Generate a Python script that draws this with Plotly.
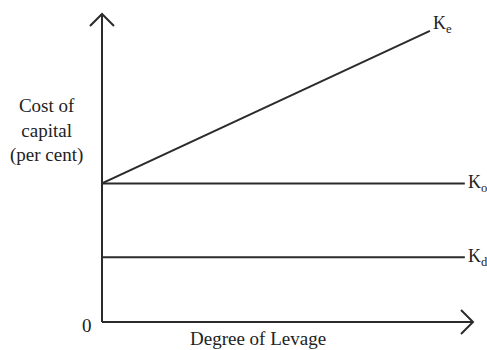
import plotly.graph_objects as go

# Data (arbitrary units)
leverage = [0, 8.84]
ke_values = [4.5, 9.45]
ko_leverage = [0, 9.78]
ko_values = [4.5, 4.5]
kd_values = [2.1, 2.1]
line_labels = ["K<sub>e</sub>", "K<sub>o</sub>", "K<sub>d</sub>"]

LINE = "#2b2b2b"
TXT = "#222"
FONT = "Liberation Serif, Times New Roman, serif"

fig = go.Figure()
for xs, ys in [(leverage, ke_values), (ko_leverage, ko_values), (ko_leverage, kd_values)]:
    fig.add_trace(go.Scatter(x=xs, y=ys, mode="lines",
                             line=dict(color=LINE, width=2), hoverinfo="skip"))

# line-end labels
ends = [(leverage[-1], ke_values[-1], 6), (ko_leverage[-1], ko_values[-1], 0),
        (ko_leverage[-1], kd_values[-1], 0)]
for (x, y, ys), lab in zip(ends, line_labels):
    fig.add_annotation(x=x, y=y, text=lab, showarrow=False, xanchor="left",
                       yanchor="middle", xshift=1, yshift=ys,
                       font=dict(family=FONT, size=18, color=TXT))

# axes with open chevron arrowheads (paper coords)
W, H = 371.0, 308.0
dx, dy = 12 / W, 12 / H
ax_style = dict(color=LINE, width=2)
fig.add_shape(type="line", xref="paper", yref="paper", x0=0, y0=0, x1=0, y1=1, line=ax_style)
fig.add_shape(type="line", xref="paper", yref="paper", x0=0, y0=0, x1=1, y1=0, line=ax_style)
fig.add_shape(type="path", xref="paper", yref="paper",
              path=f"M {-dx} {1-dy} L 0 1 L {dx} {1-dy}", line=ax_style)
fig.add_shape(type="path", xref="paper", yref="paper",
              path=f"M {1-dx} {dy} L 1 0 L {1-dx} {-dy}", line=ax_style)

fig.add_annotation(xref="paper", yref="paper", x=(46 - 102) / W, y=1 - (130 - 14) / H,
                   xanchor="center", yanchor="middle",
                   text="Cost of<br>capital<br>(per cent)", showarrow=False,
                   font=dict(family=FONT, size=19, color=TXT), align="center")
fig.add_annotation(xref="paper", yref="paper", x=(87 - 102) / W, y=-(325 - 322) / H,
                   xanchor="center", yanchor="middle", text="0",
                   showarrow=False, font=dict(family=FONT, size=19, color=TXT))
fig.add_annotation(xref="paper", yref="paper", x=(258 - 102) / W, y=-(338 - 322) / H,
                   xanchor="center", yanchor="middle",
                   text="Degree of Levage", showarrow=False,
                   font=dict(family=FONT, size=19, color=TXT))

fig.update_xaxes(range=[0, 10], visible=False, fixedrange=True)
fig.update_yaxes(range=[0, 10], visible=False, fixedrange=True)
fig.update_layout(width=487, height=350, margin=dict(l=102, r=14, t=14, b=28),
                  plot_bgcolor="white", paper_bgcolor="white", showlegend=False)

fig.write_html("out.html", config={"displayModeBar": False},
               post_script="document.body.style.margin='0';")
